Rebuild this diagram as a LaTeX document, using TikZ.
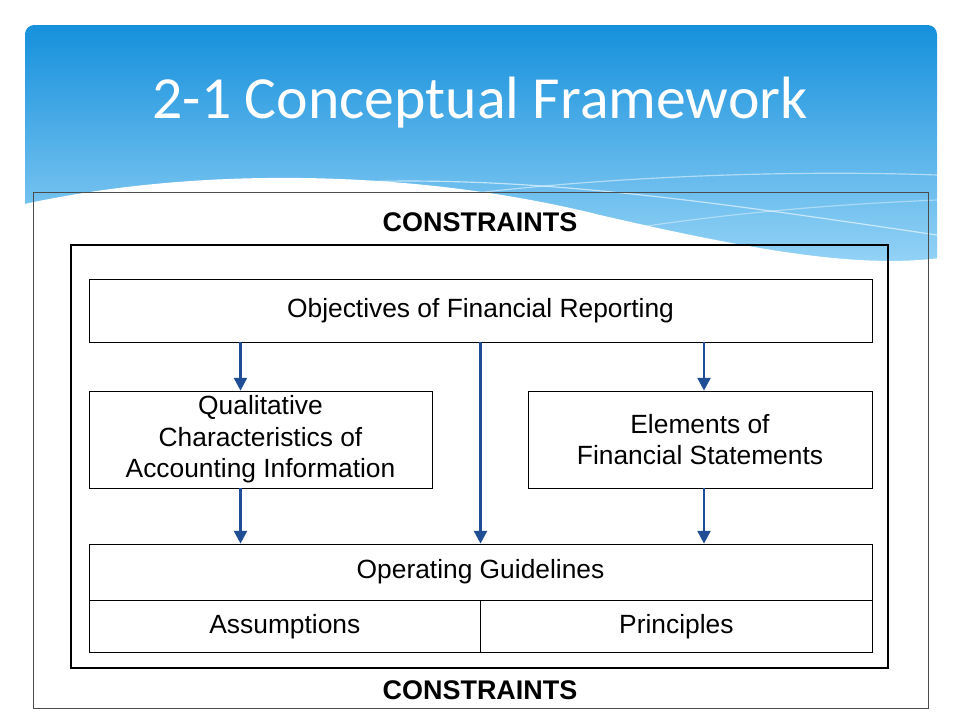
\documentclass[tikz,border=0pt]{standalone}
\usepackage{fontspec}
\setmainfont{Liberation Sans}
\newfontfamily\titlefont{Carlito}
\usetikzlibrary{arrows.meta}
\definecolor{arrowblue}{HTML}{1F4E96}
\definecolor{skytop}{HTML}{1690DC}
\definecolor{skylow}{HTML}{9AD6F7}
\tikzset{
  box/.style={draw=black, line width=0.6pt, align=center, inner sep=0pt,
    font=\fontsize{22.5}{27}\selectfont},
  flow/.style={draw=arrowblue, line width=2.4pt, -{Triangle[length=11pt,width=11pt]}},
  constraint/.style={font=\fontsize{23}{26}\selectfont\bfseries}
}
\begin{document}
\begin{tikzpicture}[x=0.03cm, y=-0.03cm]
\useasboundingbox (0,0) rectangle (960,720);
\fill[white] (0,0) rectangle (960,720);

% header band
\shade[top color=skytop, bottom color=skylow, rounded corners=8pt]
  (25,25) rectangle (937,275);
\fill[white] (20,205) .. controls (200,165) and (420,170) .. (600,215)
  .. controls (760,252) and (860,268) .. (940,258) -- (940,290) -- (20,290) -- cycle;
\draw[white, opacity=0.6, line width=1pt] (300,185) .. controls (500,170) and (700,200) .. (937,235);
\draw[white, opacity=0.5, line width=1pt] (420,200) .. controls (600,175) and (800,170) .. (937,175);
\draw[white, opacity=0.4, line width=1pt] (560,240) .. controls (700,215) and (820,205) .. (937,200);
\node[white, font=\titlefont\fontsize{51}{56}\selectfont] (title) at (480,103) {2-1 Conceptual Framework};

% frames
\draw[black!70, line width=0.6pt] (33,192) rectangle (928,708);
\draw[black, line width=1pt] (71,245) rectangle (888,668);
\node[constraint] (ctop) at (480,222) {CONSTRAINTS};
\node[constraint] (cbot) at (480,690) {CONSTRAINTS};

% boxes
\node[box, minimum width=783*0.03cm, minimum height=63*0.03cm] (obj) at (480.5,310.5) {Objectives of Financial Reporting};
\node[box, minimum width=343*0.03cm, minimum height=97*0.03cm] (qual) at (260.5,439.5)
  {Qualitative\\Characteristics of\\Accounting Information};
\node[box, minimum width=344*0.03cm, minimum height=97*0.03cm] (elem) at (700,439.5)
  {Elements of\\Financial Statements};
\node[box, minimum width=783*0.03cm, minimum height=56*0.03cm] (oper) at (480.5,572) {Operating Guidelines};
\node[box, minimum width=391*0.03cm, minimum height=52*0.03cm, anchor=north west] (assu) at (89,600) {Assumptions};
\node[box, minimum width=392*0.03cm, minimum height=52*0.03cm, anchor=north west] (prin) at (480,600) {Principles};

% arrows
\draw[flow] (obj.south -| qual.south) ++(-20,0) coordinate (a1) (a1) -- (a1 |- qual.north);
\draw[flow] (obj.south) -- (oper.north);
\draw[flow] ([xshift=4*0.03cm]obj.south -| elem.south) -- ([xshift=4*0.03cm]elem.north);
\draw[flow] ([xshift=-20*0.03cm]qual.south) -- ([xshift=-20*0.03cm]qual.south |- oper.north);
\draw[flow] ([xshift=4*0.03cm]elem.south) -- ([xshift=4*0.03cm]elem.south |- oper.north);
\end{tikzpicture}
\end{document}
